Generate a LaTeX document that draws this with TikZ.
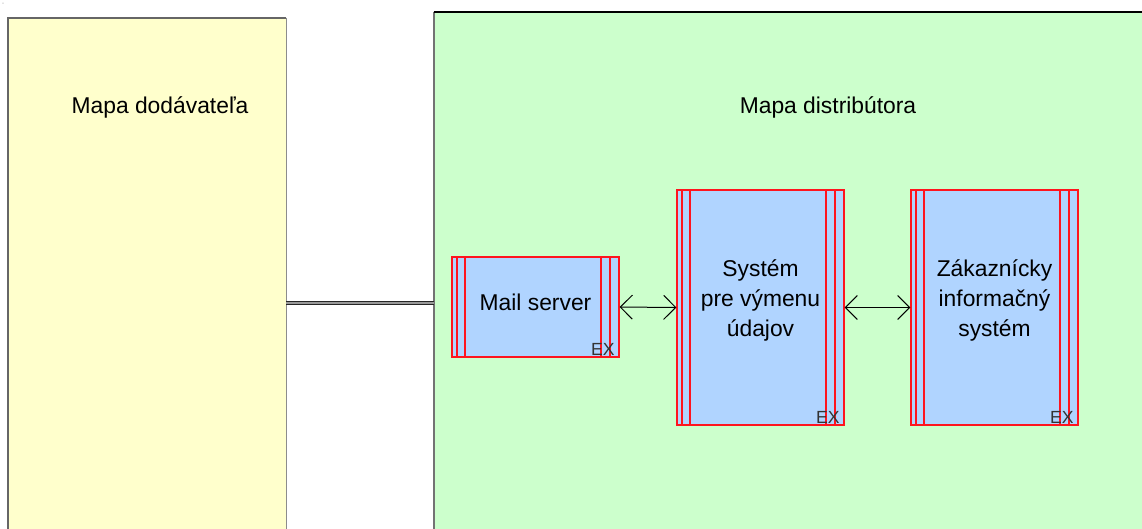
\documentclass[tikz,border=0pt]{standalone}
\usepackage{fontspec}
\setmainfont{Liberation Sans}
\usepackage{xcolor}
\usetikzlibrary{arrows.meta}

\definecolor{mapyellow}{RGB}{255,255,204}
\definecolor{mapgreen}{RGB}{204,255,204}
\definecolor{sysblue}{RGB}{176,212,255}
\definecolor{sysred}{RGB}{255,20,30}

\tikzset{
	maparea/.style={shape=rectangle, inner sep=0, draw=none},
	sysbox/.style={shape=rectangle, inner sep=0, fill=sysblue, draw=sysred, line width=0.025cm,
		minimum width=3.34cm, align=center, font=\fontsize{13}{17}\selectfont,
		path picture={
			\draw[sysred, line width=0.025cm] ([xshift=0.1cm]path picture bounding box.north west) -- ([xshift=0.1cm]path picture bounding box.south west);
			\draw[sysred, line width=0.025cm] ([xshift=0.26cm]path picture bounding box.north west) -- ([xshift=0.26cm]path picture bounding box.south west);
			\draw[sysred, line width=0.025cm] ([xshift=-0.18cm]path picture bounding box.north east) -- ([xshift=-0.18cm]path picture bounding box.south east);
			\draw[sysred, line width=0.025cm] ([xshift=-0.36cm]path picture bounding box.north east) -- ([xshift=-0.36cm]path picture bounding box.south east);
		},
		label={[anchor=south east, inner sep=1pt, xshift=-0.06cm, font=\fontsize{10}{10}\selectfont, text=black!80]south east:EX}},
	flow/.style={line width=0.02cm, {Straight Barb[length=0.24cm,width=0.48cm]}-{Straight Barb[length=0.24cm,width=0.48cm]}}
}

\begin{document}
\begin{tikzpicture}[x=0.02cm, y=-0.02cm]
	\clip (0, 0) rectangle (1142, 528);
	\fill[white] (0, 0) rectangle (1142, 528);
	\fill[black!60] (3, 3) circle (0.01cm);
	% Map areas:
	\node[maparea, fill=mapyellow, minimum width=5.56cm, minimum height=11.4cm] (Dod) at (147, 303) {};
	\draw[black!60, line width=0.04cm] (Dod.south west) -- (Dod.north west) -- (Dod.north east);
	\draw[black!45, line width=0.02cm] (Dod.north east) -- (Dod.south east);
	\node[maparea, fill=mapgreen, minimum width=14.52cm, minimum height=11.64cm] (Dist) at (797, 303) {};
	\draw[black!55, line width=0.04cm] (Dist.south west) -- (Dist.north west);
	\draw[black, line width=0.04cm] (Dist.north west) -- (Dist.north east);
	\node[font=\fontsize{13}{17}\selectfont] (DodTxt) at (160, 107) {Mapa dodávateľa};
	\node[font=\fontsize{13}{17}\selectfont] (DistTxt) at (828, 107) {Mapa distribútora};
	% Systems:
	\node[sysbox, minimum height=2cm, text depth=0.2cm] (Mail) at (535.5, 307) {Mail server};
	\node[sysbox, minimum height=4.7cm, text depth=0.38cm] (Vym) at (760.5, 307.5) {Systém\\pre výmenu\\údajov};
	\node[sysbox, minimum height=4.7cm, text depth=0.38cm] (Zis) at (994.5, 307.5) {Zákaznícky\\informačný\\systém};
	% Wires:
	\draw[double=black!40, double distance=0.035cm, line width=0.02cm, draw=black!85] (Dod.east) -- (Dist.west);
	\draw[flow] (Mail.east) -- (Vym.west);
	\draw[flow] (Vym.east) -- (Zis.west);
\end{tikzpicture}
\end{document}
